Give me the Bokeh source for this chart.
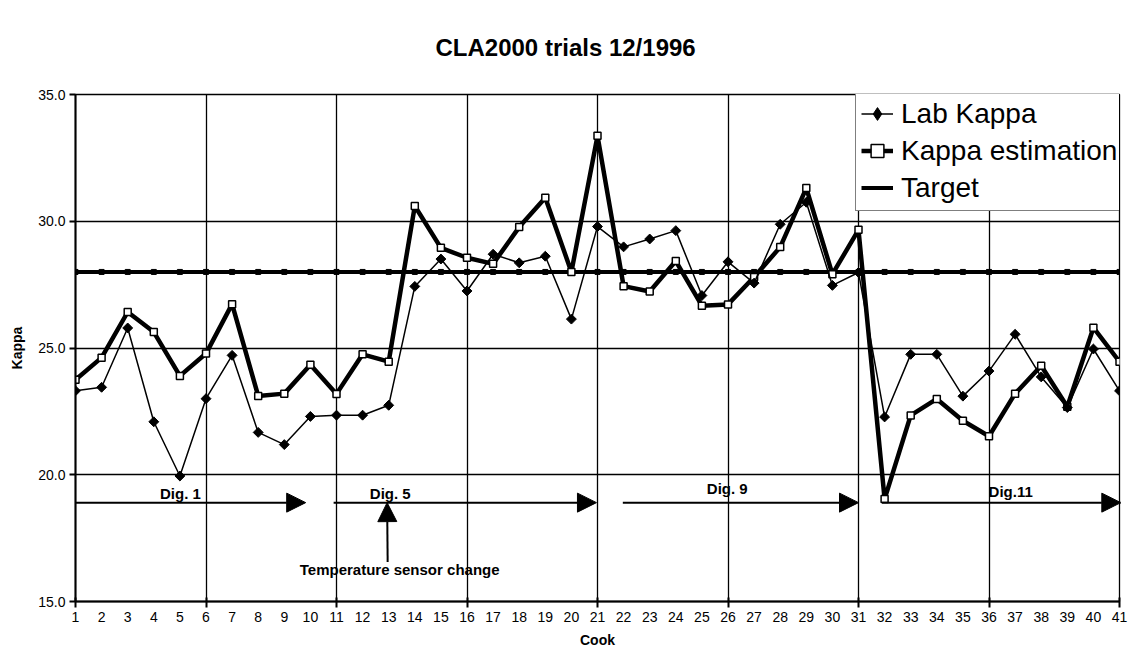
import math
from bokeh.plotting import figure
from bokeh.models import (FixedTicker, PrintfTickFormatter, Arrow, NormalHead, Label,
                          Legend, LegendItem, Range1d, Title)
from bokeh.embed import file_html
from bokeh.resources import INLINE

# ---------------- data ----------------
cooks = list(range(1, 42))
lab_kappa = [23.31, 23.45, 25.79, 22.09, 19.95, 23.00, 24.71, 21.67, 21.19, 22.30,
             22.35, 22.35, 22.74, 27.43, 28.51, 27.25, 28.70, 28.36, 28.62, 26.14,
             29.79, 28.99, 29.30, 29.63, 27.07, 28.40, 27.56, 29.88, 30.75, 27.47,
             27.98, 22.28, 24.75, 24.75, 23.10, 24.09, 25.54, 23.86, 22.65, 24.96,
             23.31]
kappa_estimation = [23.75, 24.62, 26.42, 25.63, 23.90, 24.78, 26.73, 23.11, 23.20, 24.34,
                    23.19, 24.75, 24.46, 30.60, 28.95, 28.56, 28.32, 29.77, 30.93, 28.00,
                    33.37, 27.44, 27.23, 28.43, 26.67, 26.72, 27.80, 28.98, 31.31, 27.91,
                    29.66, 19.04, 22.34, 22.99, 22.13, 21.52, 23.20, 24.30, 22.68, 25.80,
                    24.46]
target = [28.0, 28.0, 28.0, 28.0, 28.0, 28.0, 28.0, 28.0, 28.0, 28.0,
          28.0, 28.0, 28.0, 28.0, 28.0, 28.0, 28.0, 28.0, 28.0, 28.0,
          28.0, 28.0, 28.0, 28.0, 28.0, 28.0, 28.0, 28.0, 28.0, 28.0,
          28.0, 28.0, 28.0, 28.0, 28.0, 28.0, 28.0, 28.0, 28.0, 28.0,
          28.0]
y_ticks = [15, 20, 25, 30, 35]
x_grid_ticks = [1, 6, 11, 16, 21, 26, 31, 36, 41]

chart_title = "CLA2000 trials 12/1996"
digester_labels = ["Dig. 1", "Dig. 5", "Dig. 9", "Dig.11"]
digester_start = [1.0, 10.89, 21.97, 31.9]
digester_end = [9.82, 20.96, 31.0, 41.05]
digester_label_x = [5.02, 13.06, 25.97, 36.83]
digester_label_y = [19.26, 19.26, 19.44, 19.34]
digester_level = 18.9
sensor_note = "Temperature sensor change"
sensor_cook = 12.94

FONT = "Liberation Sans"

p = figure(width=1130, height=660, x_range=Range1d(1, 41), y_range=Range1d(15, 35),
           output_backend="svg", toolbar_location=None, title=None,
           min_border_left=75, min_border_right=11, min_border_top=94, min_border_bottom=59,
           background_fill_color="white", border_fill_color="white")

p.add_layout(Title(text=chart_title, text_font=FONT, text_font_size="24px",
                   text_font_style="bold", text_color="black", align="left", offset=360,
                   vertical_align="top", standoff=64), "above")

# axes
p.yaxis.ticker = FixedTicker(ticks=y_ticks)
p.yaxis.formatter = PrintfTickFormatter(format="%.1f")
p.yaxis.axis_label = "Kappa"
xb = p.below[0]
xb.ticker = FixedTicker(ticks=cooks, minor_ticks=x_grid_ticks)
xb.axis_label = "Cook"
for ax in (xb, p.yaxis[0]):
    ax.axis_line_color = "black"
    ax.axis_line_width = 2
    ax.major_label_text_font = FONT
    ax.major_label_text_font_size = "14px"
    ax.major_label_text_color = "black"
    ax.axis_label_text_font = FONT
    ax.axis_label_text_font_size = "14px"
    ax.axis_label_text_font_style = "bold"
    ax.axis_label_text_color = "black"
    ax.major_tick_line_color = "black"
    ax.major_tick_line_width = 2
    ax.minor_tick_line_color = "black"
    ax.minor_tick_line_width = 2
p.yaxis.major_tick_out = 6
p.yaxis.major_tick_in = 0
p.yaxis.minor_tick_out = 0
p.yaxis.minor_tick_in = 0
p.yaxis.major_label_standoff = 4
p.yaxis.axis_label_standoff = 10
xb.major_tick_out = 0
xb.major_tick_in = 0
xb.minor_tick_out = 6
xb.minor_tick_in = 4
xb.major_label_standoff = 4
xb.axis_label_standoff = 7

# grid
p.xgrid.ticker = FixedTicker(ticks=x_grid_ticks)
p.ygrid.ticker = FixedTicker(ticks=y_ticks)
for g in (p.xgrid[0], p.ygrid[0]):
    g.grid_line_color = "black"
    g.grid_line_width = 1.3
    g.grid_line_alpha = 1
p.outline_line_color = "black"
p.outline_line_width = 1.3

# series
target_line = p.line(cooks, target, line_width=4, color="black")
p.scatter(cooks, target, marker="square", size=5, color="black")
est_line = p.line(cooks, kappa_estimation, line_width=4.5, color="black")
est_pts = p.scatter(cooks, kappa_estimation, marker="square", size=7,
                    fill_color="white", line_color="black", line_width=1.5)
lab_line = p.line(cooks, lab_kappa, line_width=1.5, color="black")
lab_pts = p.scatter(cooks, lab_kappa, marker="square", angle=math.pi / 4, size=7,
                    color="black")
# legend-only diamond glyph (placed outside the visible range)
lab_legend_marker = p.scatter([-10], [0], marker="diamond", size=10, color="black")

# digester arrows and labels
for lbl, xs, xe, lx, ly in zip(digester_labels, digester_start, digester_end,
                               digester_label_x, digester_label_y):
    p.add_layout(Arrow(end=NormalHead(size=19, fill_color="black", line_color="black",
                                      line_width=1),
                       x_start=xs, y_start=digester_level, x_end=xe, y_end=digester_level,
                       line_width=2, line_color="black"))
    p.add_layout(Label(x=lx, y=ly, text=lbl, text_align="center", text_baseline="middle",
                       text_font=FONT, text_font_size="15px", text_font_style="bold",
                       text_color="black"))

p.add_layout(Arrow(end=NormalHead(size=19, fill_color="black", line_color="black", line_width=1),
                   x_start=sensor_cook + 0.02, y_start=16.56, x_end=sensor_cook, y_end=digester_level,
                   line_width=2, line_color="black"))
p.add_layout(Label(x=13.42, y=16.27, text=sensor_note, text_align="center",
                   text_baseline="middle", text_font=FONT, text_font_size="15px",
                   text_font_style="bold", text_color="black"))

# legend
legend = Legend(items=[LegendItem(label="Lab Kappa", renderers=[lab_line, lab_legend_marker]),
                       LegendItem(label="Kappa estimation", renderers=[est_line, est_pts]),
                       LegendItem(label="Target", renderers=[target_line])],
                location=(780, 390), margin=0, padding=5, spacing=2,
                glyph_width=32, glyph_height=35, label_height=35, label_standoff=8,
                label_text_font=FONT, label_text_font_size="28px", label_text_color="black",
                border_line_color="black", border_line_width=1.5,
                background_fill_color="white", background_fill_alpha=1)
p.add_layout(legend)

open("out.html", "w").write(file_html(p, INLINE))
